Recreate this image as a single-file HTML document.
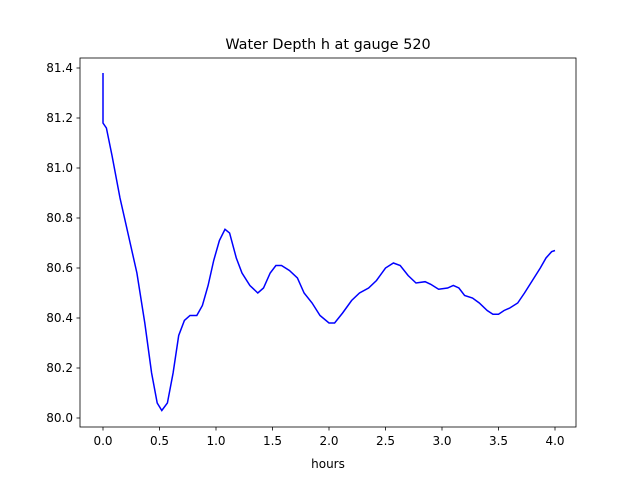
<!DOCTYPE html>
<html><head><meta charset="utf-8"><style>
body{margin:0;background:#fff;}
svg text{font-family:"DejaVu Sans","Liberation Sans",sans-serif;font-size:12px;fill:#000;}
</style></head><body>
<svg id="chart" width="640" height="480">
<rect width="640" height="480" fill="#fff"/>
<text x="328" y="49" text-anchor="middle" style="font-size:14.4px">Water Depth h at gauge 520</text>
<text x="328" y="468" text-anchor="middle">hours</text>
<g id="ticks"></g>
<path id="line" fill="none" stroke="#0000ff" stroke-width="1.5"/>
<rect x="80" y="58" width="496" height="369" fill="none" stroke="#000" stroke-width="0.8"/>
</svg>
<script>
const xTicks=[0,0.5,1,1.5,2,2.5,3,3.5,4];
const xTickLabels=["0.0","0.5","1.0","1.5","2.0","2.5","3.0","3.5","4.0"];
const yTicks=[80.0,80.2,80.4,80.6,80.8,81.0,81.2,81.4];
const yTickLabels=["80.0","80.2","80.4","80.6","80.8","81.0","81.2","81.4"];
const hours=[0,0,0.03,0.08,0.15,0.22,0.3,0.37,0.43,0.48,0.52,0.57,0.62,0.67,0.72,0.77,0.83,0.88,0.93,0.98,1.03,1.08,1.12,1.18,1.23,1.3,1.37,1.42,1.48,1.53,1.58,1.65,1.72,1.78,1.85,1.92,2.0,2.05,2.12,2.2,2.27,2.35,2.42,2.5,2.57,2.63,2.7,2.77,2.85,2.9,2.97,3.05,3.1,3.15,3.2,3.27,3.33,3.4,3.45,3.5,3.55,3.6,3.67,3.73,3.8,3.87,3.92,3.97,4.0];
const depth=[81.38,81.18,81.16,81.05,80.88,80.74,80.58,80.38,80.18,80.06,80.03,80.06,80.18,80.33,80.39,80.41,80.41,80.45,80.53,80.63,80.71,80.755,80.74,80.64,80.58,80.53,80.50,80.52,80.58,80.61,80.61,80.59,80.56,80.50,80.46,80.41,80.38,80.38,80.42,80.47,80.50,80.52,80.55,80.60,80.62,80.61,80.57,80.54,80.545,80.535,80.515,80.52,80.53,80.52,80.49,80.48,80.46,80.43,80.415,80.415,80.43,80.44,80.46,80.50,80.55,80.60,80.64,80.665,80.67];
const sx=v=>103+v*113;
const sy=v=>418-(v-80)*250;
const NS="http://www.w3.org/2000/svg";
const g=document.getElementById('ticks');
function mk(t,a){const e=document.createElementNS(NS,t);for(const k in a)e.setAttribute(k,a[k]);g.appendChild(e);return e;}
xTicks.forEach((v,i)=>{
 const l=mk('line',{x1:sx(v),x2:sx(v),y1:427,y2:430.5,stroke:'#000','stroke-width':0.8});
 
 
 const t=mk('text',{x:sx(v),y:445,'text-anchor':'middle'});t.textContent=xTickLabels[i];
 
 
});
yTicks.forEach((v,i)=>{
 const l=mk('line',{x1:76.5,x2:80,y1:sy(v),y2:sy(v),stroke:'#000','stroke-width':0.8});
 
 
 const t=mk('text',{x:73,y:sy(v)+4,'text-anchor':'end'});t.textContent=yTickLabels[i];
 
 
});
document.getElementById('line').setAttribute('d',hours.map((h,i)=>(i?'L':'M')+sx(h).toFixed(1)+','+sy(depth[i]).toFixed(1)).join(''));
</script>
</body></html>
